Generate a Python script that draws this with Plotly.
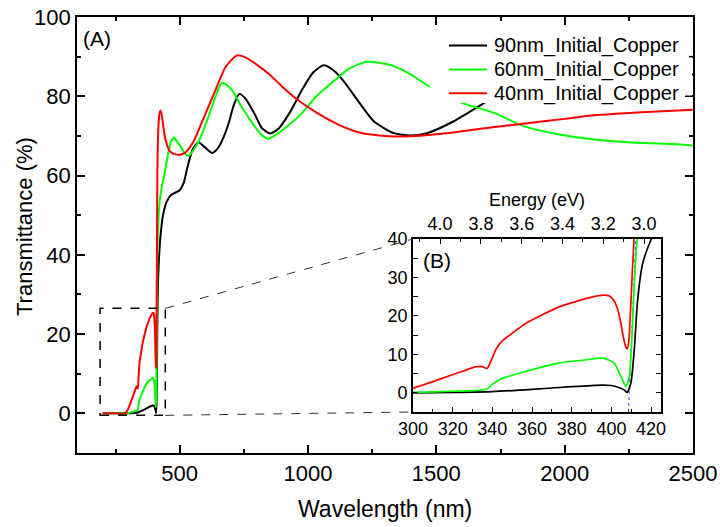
import plotly.graph_objects as go

# ---------------- data ----------------
series_names = ["90nm_Initial_Copper", "60nm_Initial_Copper", "40nm_Initial_Copper"]

wl_black = [200, 250, 290, 300, 320, 340, 360, 380, 395, 400,
            404, 406.5, 408, 409.8, 411.5, 413.2, 415.7, 420, 425, 435,
            450, 465, 480, 500, 515, 530, 550, 573, 595, 626,
            650, 670, 690, 712, 733, 755, 790, 820, 853, 885,
            930, 980, 1020, 1061, 1100, 1139, 1204, 1256, 1334, 1399,
            1464, 1568, 1692, 1800, 1950, 2100, 2250, 2400, 2500]
t_black = [0, 0, 0, 0, 0.1, 0.3, 0.9, 1.6, 2.0, 1.9,
           1.3, 0.7, 0.1, 2.5, 11, 24, 33.5, 39.8, 44.5, 50,
           53.5, 55, 55.6, 56.3, 58, 62, 66.5, 68.4, 67.3, 65.7,
           67, 69.5, 73, 78, 80.6, 79.5, 75.8, 72, 70.6, 71.8,
           76, 82, 86, 87.8, 86.5, 83.8, 78, 73.7, 70.7, 70.1,
           70.7, 73.7, 78.5, 82.5, 86, 87.5, 87.5, 86.5, 85.5]

wl_green = [200, 250, 295, 300, 320, 337, 340, 344, 357, 374,
            386, 396, 401.4, 404.8, 407.3, 409, 410.3, 411.5, 413, 416,
            420, 430, 440, 452, 465, 478, 490, 502, 520, 535,
            555, 580, 610, 640, 665, 690, 710, 740, 788, 820,
            845, 880, 930, 970, 1030, 1100, 1160, 1230, 1300, 1334,
            1400, 1477, 1588, 1725, 1842, 1985, 2100, 2245, 2400, 2500]
t_green = [0, 0, 0, 0.1, 0.4, 0.9, 2.2, 3.5, 5.6, 7.8,
           8.5, 9.0, 7.7, 4.2, 1.6, 4.2, 14, 28, 40, 47,
           52, 57, 60, 64.5, 68.3, 69.6, 68.5, 67.5, 65.6, 65,
           66.5, 69.4, 74.5, 80, 83.4, 82.5, 81, 77.5, 72.8, 70.2,
           69.3, 70.5, 73, 75.3, 79.8, 83.8, 87, 88.7, 88.2, 87.6,
           85.5, 82.3, 78.6, 75.8, 72.4, 70.3, 69.2, 68.4, 68, 67.6]

wl_red = [200, 250, 288, 300, 315, 325, 332, 335, 337.3, 339.5,
          342, 345, 350, 357, 374, 391, 396, 399, 401.2, 403,
          404.6, 406, 407.2, 407.9, 408.7, 409.7, 410.5, 411.4, 412.5, 414,
          417, 421, 426, 431, 437, 445, 460, 480, 505, 525,
          554, 590, 632, 680, 723, 760, 800, 850, 905, 970,
          1035, 1120, 1204, 1300, 1399, 1500, 1594, 1720, 1855, 2000,
          2115, 2300, 2500]
t_red = [0, 0, 0, 1.2, 3.8, 5.6, 6.8, 6.8, 6.3, 8.5,
         11.5, 13.5, 15.5, 18.1, 22.4, 25, 25.4, 25.2, 24, 22,
         18.5, 14.5, 12, 11.4, 13, 22, 31, 40, 55, 65,
         72, 75.5, 76.4, 75, 72, 69, 66.3, 65.4, 65.3, 66,
         68.6, 74, 80.4, 87.5, 90.3, 89.7, 88, 85.5, 82.1, 78.6,
         75.8, 72.8, 70.8, 70, 69.9, 70.4, 71.1, 72.2, 73.2, 74.3,
         75.2, 76, 76.6]

# zoom box drawn on main panel (data units) and band-edge tangent in inset
zoom_box_wl = [190, 444]
zoom_box_t = [-0.5, 26.5]
tangent_wl = [408.6, 412.3]
tangent_t = [-5, 40]

HC = 1239.84  # eV*nm

# ---------------- styling ----------------
series_colors = ["#000000", "#00FF00", "#FF0000"]
W, H = 720, 527
FONT = "Liberation Sans, Arial, sans-serif"

def fx(px):
    return px / W

def fy(py):
    return 1 - py / H

main_x_dom = [fx(77), fx(693)]
main_y_dom = [fy(453), fy(17)]
ins_x_dom = [fx(413), fx(661)]
ins_y_dom = [fy(412), fy(239)]

main_x_range = [100, 2500]
main_y_range = [-10, 100]
main_y_dtick, main_y_minor = 20, 10
ins_x_range = [300, 425]
ins_y_range = [-5, 40]
energy_range = [HC / ins_x_range[0], HC / ins_x_range[1]]

# legend box (pixels)
leg_box = dict(x0=430, x1=692, y0=28, y1=103)
leg_rows = [45.5, 69.5, 93.3]
leg_line_x = [449, 487]
leg_text_x = 492

for a, b in [(wl_black, t_black), (wl_green, t_green), (wl_red, t_red)]:
    assert len(a) == len(b)

fig = go.Figure()
series = [(wl_black, t_black), (wl_green, t_green), (wl_red, t_red)]
for (wl, t), name, col in zip(series, series_names, series_colors):
    fig.add_trace(go.Scatter(x=wl, y=t, mode="lines", name=name, showlegend=False,
                             line=dict(color=col, width=2, shape="spline", smoothing=0.6),
                             xaxis="x", yaxis="y"))
for (wl, t), name, col in zip(series, series_names, series_colors):
    fig.add_trace(go.Scatter(x=wl, y=t, mode="lines", name=name, showlegend=False,
                             line=dict(color=col, width=1.7, shape="spline", smoothing=0.6),
                             xaxis="x2", yaxis="y2"))
fig.add_trace(go.Scatter(x=[], y=[], xaxis="x3", yaxis="y2", showlegend=False))

common = dict(showline=True, linecolor="black", linewidth=1.6, ticks="inside",
              tickcolor="black", showgrid=False, zeroline=False, automargin=False)

fig.update_layout(
    width=W, height=H,
    margin=dict(l=0, r=0, t=0, b=0),
    paper_bgcolor="white", plot_bgcolor="white",
    font=dict(family=FONT, color="black"),
    showlegend=False,
    xaxis=dict(**common, domain=main_x_dom, range=main_x_range, anchor="y",
               mirror="allticks", tickmode="linear", tick0=0, dtick=500,
               ticklen=8, tickwidth=1.5, tickfont=dict(size=22),
               minor=dict(dtick=250, ticklen=4, ticks="inside", tickcolor="black", tickwidth=1.5)),
    yaxis=dict(**common, domain=main_y_dom, range=main_y_range, anchor="x",
               mirror="allticks", tickmode="linear", tick0=0, dtick=main_y_dtick,
               ticklen=8, tickwidth=1.5, tickfont=dict(size=22),
               minor=dict(dtick=main_y_minor, ticklen=4, ticks="inside", tickcolor="black", tickwidth=1.5)),
    xaxis2=dict(**common, domain=ins_x_dom, range=ins_x_range, anchor="y2",
                mirror=True, tickmode="linear", tick0=300, dtick=20,
                ticklen=5, tickwidth=1.3, tickfont=dict(size=18),
                minor=dict(dtick=10, ticklen=3, ticks="inside", tickcolor="black", tickwidth=1.3)),
    yaxis2=dict(**common, domain=ins_y_dom, range=ins_y_range, anchor="x2",
                mirror="allticks", tickmode="linear", tick0=0, dtick=10,
                ticklen=5, tickwidth=1.3, tickfont=dict(size=18),
                minor=dict(dtick=5, ticklen=3, ticks="inside", tickcolor="black", tickwidth=1.3)),
    xaxis3=dict(**common, overlaying="x2", anchor="y2", side="top", range=energy_range,
                tickmode="linear", tick0=0, dtick=0.2, tickformat=".1f",
                ticklen=5, tickwidth=1.3, tickfont=dict(size=18),
                minor=dict(dtick=0.1, ticklen=3, ticks="inside", tickcolor="black", tickwidth=1.3)),
)

def main_x_of(frac):
    return main_x_range[0] + (frac - main_x_dom[0]) / (main_x_dom[1] - main_x_dom[0]) * (main_x_range[1] - main_x_range[0])

def main_y_of(frac):
    return main_y_range[0] + (frac - main_y_dom[0]) / (main_y_dom[1] - main_y_dom[0]) * (main_y_range[1] - main_y_range[0])

shapes = [
    dict(type="rect", xref="x", yref="y", x0=zoom_box_wl[0], x1=zoom_box_wl[1],
         y0=zoom_box_t[0], y1=zoom_box_t[1], line=dict(color="black", width=1.5, dash="dash")),
    dict(type="line", xref="x", yref="y", x0=zoom_box_wl[1], y0=zoom_box_t[1],
         x1=main_x_of(ins_x_dom[0]), y1=main_y_of(ins_y_dom[1]),
         line=dict(color="#333333", width=1, dash="dash")),
    dict(type="line", xref="x", yref="y", x0=zoom_box_wl[1], y0=zoom_box_t[0],
         x1=main_x_of(ins_x_dom[0]), y1=main_y_of(ins_y_dom[0]),
         line=dict(color="#333333", width=1, dash="dash")),
    dict(type="line", xref="x2", yref="y2", x0=tangent_wl[0], y0=tangent_t[0],
         x1=tangent_wl[1], y1=tangent_t[1], line=dict(color="#3344ff", width=1, dash="dot"),
         layer="below"),
    # legend background (opaque, hides the curves underneath)
    dict(type="rect", xref="paper", yref="paper", x0=fx(leg_box["x0"]), x1=fx(leg_box["x1"]),
         y0=fy(leg_box["y1"]), y1=fy(leg_box["y0"]), fillcolor="white",
         line=dict(width=0), layer="above"),
]
# re-draw the right-axis ticks that fall inside the legend box
v = main_y_range[0]
while v <= main_y_range[1]:
    frac = main_y_dom[0] + (v - main_y_range[0]) / (main_y_range[1] - main_y_range[0]) * (main_y_dom[1] - main_y_dom[0])
    py = (1 - frac) * H
    if leg_box["y0"] < py < leg_box["y1"]:
        ln = 8 if v % main_y_dtick == 0 else 4
        shapes.append(dict(type="line", xref="paper", yref="y", x0=main_x_dom[1] - fx(ln),
                           x1=main_x_dom[1], y0=v, y1=v, line=dict(color="black", width=1.5),
                           layer="above"))
    v += main_y_minor

legend_annots = []
for name, col, row in zip(series_names, series_colors, leg_rows):
    shapes.append(dict(type="line", xref="paper", yref="paper", x0=fx(leg_line_x[0]),
                       x1=fx(leg_line_x[1]), y0=fy(row), y1=fy(row),
                       line=dict(color=col, width=2), layer="above"))
    legend_annots.append(dict(text=name, x=fx(leg_text_x), y=fy(row), xanchor="left",
                              font=dict(size=20)))
fig.update_layout(shapes=shapes)

annots = [
    dict(text="Wavelength (nm)", x=(main_x_dom[0] + main_x_dom[1]) / 2, y=fy(509),
         font=dict(size=23)),
    dict(text="Transmittance (%)", x=fx(25), y=fy(227),
         textangle=-90, font=dict(size=22)),
    dict(text="Energy (eV)", x=(ins_x_dom[0] + ins_x_dom[1]) / 2, y=fy(200),
         font=dict(size=18)),
    dict(text="(A)", x=fx(97), y=fy(38), font=dict(size=21)),
    dict(text="(B)", x=fx(437), y=fy(260), font=dict(size=21)),
] + legend_annots
for a in annots:
    a.setdefault("xanchor", "center")
    a.update(xref="paper", yref="paper", showarrow=False, yanchor="middle")
fig.update_layout(annotations=annots)

fig.write_html("out.html")
